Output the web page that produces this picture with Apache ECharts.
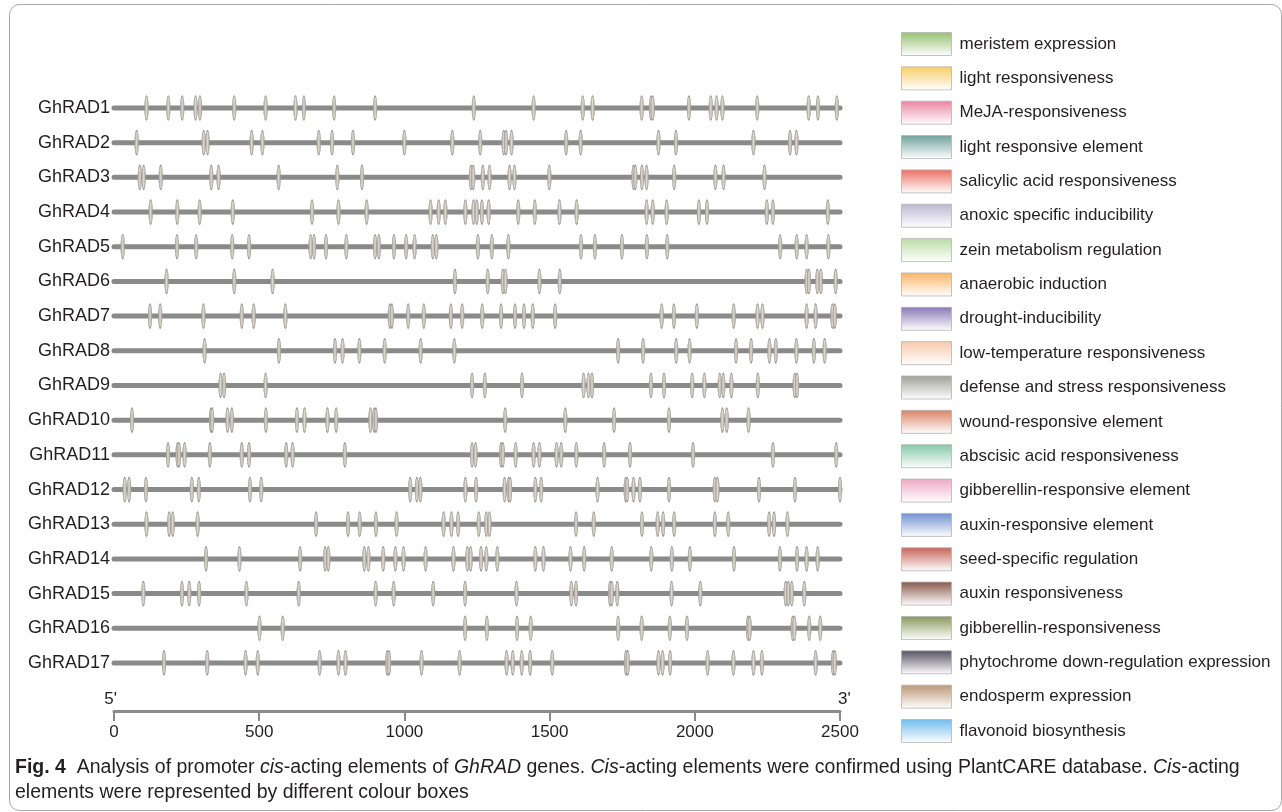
<!DOCTYPE html>
<html>
<head>
<meta charset="utf-8">
<script src="https://cdn.jsdelivr.net/npm/echarts@6.0.0/dist/echarts.min.js"></script>
<style>
  html, body { margin: 0; padding: 0; background: #fff; }
  #main { width: 1282px; height: 812px; }
</style>
</head>
<body>
<div id="main"></div>
<script>
// gene names, top to bottom
var genes = ['GhRAD1', 'GhRAD2', 'GhRAD3', 'GhRAD4', 'GhRAD5', 'GhRAD6', 'GhRAD7', 'GhRAD8', 'GhRAD9',
  'GhRAD10', 'GhRAD11', 'GhRAD12', 'GhRAD13', 'GhRAD14', 'GhRAD15', 'GhRAD16', 'GhRAD17'];

// promoter length drawn for every gene (bp)
var promoterLength = [2500, 2500, 2500, 2500, 2500, 2500, 2500, 2500, 2500, 2500, 2500, 2500, 2500, 2500, 2500, 2500, 2500];

// cis-acting element positions (bp from 5' end)
var ghRAD1 = [112, 187, 235, 281, 296, 414, 522, 625, 654, 758, 899, 1239, 1445, 1614, 1648, 1817, 1849, 1855, 1980, 2055, 2075, 2095, 2215, 2392, 2424, 2489];
var ghRAD2 = [78, 309, 322, 474, 511, 705, 751, 823, 1000, 1165, 1261, 1342, 1350, 1369, 1557, 1607, 1875, 1935, 2202, 2328, 2350];
var ghRAD3 = [89, 102, 161, 335, 360, 567, 769, 854, 1229, 1237, 1270, 1293, 1362, 1379, 1499, 1789, 1795, 1818, 1834, 1929, 2071, 2099, 2240];
var ghRAD4 = [126, 218, 295, 409, 682, 773, 870, 1090, 1118, 1141, 1210, 1238, 1249, 1267, 1290, 1392, 1449, 1534, 1593, 1834, 1855, 1903, 2014, 2042, 2248, 2269, 2458];
var ghRAD5 = [30, 217, 283, 407, 465, 677, 689, 730, 800, 899, 912, 964, 1006, 1035, 1098, 1110, 1253, 1301, 1358, 1608, 1656, 1749, 1835, 1905, 2294, 2351, 2385, 2460];
var ghRAD6 = [181, 414, 546, 1174, 1287, 1339, 1348, 1465, 1535, 2385, 2393, 2422, 2434, 2485];
var ghRAD7 = [124, 159, 308, 440, 481, 590, 950, 957, 1013, 1067, 1160, 1199, 1268, 1333, 1381, 1412, 1442, 1519, 1886, 1928, 2007, 2134, 2216, 2233, 2385, 2416, 2474, 2482];
var ghRAD8 = [312, 568, 761, 787, 845, 932, 1056, 1172, 1736, 1822, 1936, 1982, 2142, 2194, 2257, 2279, 2350, 2410, 2447];
var ghRAD9 = [367, 379, 522, 1233, 1277, 1405, 1617, 1634, 1646, 1849, 1894, 1991, 2033, 2086, 2098, 2126, 2217, 2344, 2352];
var ghRAD10 = [62, 334, 338, 391, 406, 523, 630, 656, 735, 765, 883, 896, 902, 1347, 1554, 1722, 1911, 2095, 2110, 2185];
var ghRAD11 = [186, 219, 224, 243, 330, 440, 465, 593, 615, 795, 1233, 1245, 1333, 1339, 1383, 1445, 1465, 1524, 1540, 1592, 1688, 1777, 1994, 2269, 2487];
var ghRAD12 = [37, 52, 110, 268, 292, 468, 507, 1020, 1043, 1055, 1210, 1247, 1345, 1359, 1364, 1451, 1471, 1665, 1762, 1767, 1789, 1811, 1911, 2069, 2078, 2221, 2345, 2500];
var ghRAD13 = [112, 190, 202, 288, 696, 806, 846, 902, 973, 1135, 1162, 1185, 1256, 1282, 1293, 1591, 1652, 1818, 1872, 1891, 1929, 2069, 2115, 2256, 2273, 2319];
var ghRAD14 = [317, 432, 641, 727, 738, 862, 876, 927, 969, 997, 1073, 1169, 1217, 1228, 1264, 1282, 1320, 1451, 1479, 1572, 1619, 1714, 1850, 1921, 1983, 2135, 2293, 2352, 2385, 2423];
var ghRAD15 = [101, 234, 259, 293, 456, 636, 901, 963, 1099, 1209, 1386, 1575, 1591, 1708, 1714, 1733, 1920, 2019, 2313, 2322, 2334, 2377];
var ghRAD16 = [501, 581, 1209, 1284, 1388, 1435, 1736, 1817, 1914, 1973, 2183, 2189, 2337, 2343, 2394, 2432];
var ghRAD17 = [172, 321, 453, 495, 708, 773, 797, 941, 947, 1059, 1190, 1352, 1373, 1404, 1433, 1509, 1763, 1769, 1875, 1889, 1915, 2044, 2133, 2202, 2231, 2416, 2476, 2482];
var elementSites = [ghRAD1, ghRAD2, ghRAD3, ghRAD4, ghRAD5, ghRAD6, ghRAD7, ghRAD8, ghRAD9,
  ghRAD10, ghRAD11, ghRAD12, ghRAD13, ghRAD14, ghRAD15, ghRAD16, ghRAD17];

// legend: element types and their box colours
var elementTypes = ['meristem expression', 'light responsiveness', 'MeJA-responsiveness', 'light responsive element',
  'salicylic acid responsiveness', 'anoxic specific inducibility', 'zein metabolism regulation', 'anaerobic induction',
  'drought-inducibility', 'low-temperature responsiveness', 'defense and stress responsiveness', 'wound-responsive element',
  'abscisic acid responsiveness', 'gibberellin-responsive element', 'auxin-responsive element', 'seed-specific regulation',
  'auxin responsiveness', 'gibberellin-responsiveness', 'phytochrome down-regulation expression', 'endosperm expression',
  'flavonoid biosynthesis'];
var elementColors = ['#7ab04c', '#f5c03e', '#e5648c', '#4b8882', '#e6483a', '#a9a6c6', '#a8d38e', '#f6a03e',
  '#6b55a2', '#f8b994', '#86887c', '#cf623c', '#63ba8e', '#e992b2', '#4b74c2', '#b83c2c',
  '#6b2d1e', '#6c7c32', '#2a2338', '#a97c52', '#4caae8'];

var xTicks = [0, 500, 1000, 1500, 2000, 2500];

var FONT = '"Liberation Sans", Arial, sans-serif';
var TEXT_COLOR = '#231f20';

var chart = echarts.init(document.getElementById('main'));

var markerData = [];
elementSites.forEach(function (sites, i) {
  sites.forEach(function (p) {
    markerData.push([p, genes[i]]);
  });
});

var legendSeries = elementTypes.map(function (name, k) {
  return {
    name: name,
    type: 'scatter',
    data: [],
    itemStyle: {
      color: new echarts.graphic.LinearGradient(0, 0, 0, 1, [
        {offset: 0, color: elementColors[k]},
        {offset: 1, color: '#ffffff'}
      ])
    }
  };
});

var option = {
  backgroundColor: '#ffffff',
  animation: false,
  grid: {
    left: 114,
    right: 442,
    top: 90.66,
    bottom: 131.7,
    containLabel: false
  },
  xAxis: {
    type: 'value',
    min: 0,
    max: 2500,
    interval: 500,
    offset: 30.7,
    axisLine: {show: true, lineStyle: {color: '#8a8a8a', width: 3}},
    axisTick: {show: true, length: 10, lineStyle: {color: '#8a8a8a', width: 2}},
    axisLabel: {
      color: TEXT_COLOR, fontSize: 17, fontFamily: FONT, margin: 13,
      formatter: function (v) { return xTicks.indexOf(v) >= 0 ? String(v) : ''; }
    },
    splitLine: {show: false}
  },
  yAxis: {
    type: 'category',
    data: genes,
    inverse: true,
    axisLine: {show: false},
    axisTick: {show: false},
    axisLabel: {color: TEXT_COLOR, fontSize: 18, fontFamily: FONT, margin: 4}
  },
  legend: {
    orient: 'vertical',
    left: 896,
    top: 27,
    itemWidth: 50,
    itemHeight: 23,
    itemGap: 10.35,
    icon: 'rect',
    selectedMode: false,
    itemStyle: {borderColor: '#b4b4b4', borderWidth: 1},
    textStyle: {color: TEXT_COLOR, fontSize: 17, fontFamily: FONT, padding: [0, 0, 0, 3]},
    data: elementTypes
  },
  series: [
    {
      // promoter backbone lines
      type: 'custom',
      silent: true,
      z: 1,
      data: promoterLength.map(function (len, i) { return [len, genes[i]]; }),
      renderItem: function (params, api) {
        var start = api.coord([0, api.value(1)]);
        var end = api.coord([api.value(0), api.value(1)]);
        return {
          type: 'line',
          shape: {x1: start[0], y1: start[1], x2: end[0], y2: end[1]},
          style: {stroke: '#8a8a8a', lineWidth: 5, lineCap: 'round'}
        };
      }
    },
    {
      // cis-acting element boxes
      type: 'scatter',
      z: 3,
      silent: true,
      symbol: 'circle',
      symbolSize: [4, 24],
      data: markerData,
      itemStyle: {
        color: new echarts.graphic.LinearGradient(0, 0, 1, 0, [
          {offset: 0, color: '#9c9a98'},
          {offset: 0.5, color: '#e0d8ca'},
          {offset: 1, color: '#9c9a98'}
        ]),
        borderColor: '#979797',
        borderWidth: 0.7,
        opacity: 1
      }
    }
  ].concat(legendSeries)
};

chart.setOption(option);

// 5' / 3' end labels and caption
var axisY = 711;
var x0 = chart.convertToPixel({xAxisIndex: 0}, 0);
var x1 = chart.convertToPixel({xAxisIndex: 0}, 2500);
var CAPTION_FONT = '19.5px ' + FONT;
chart.setOption({
  graphic: [
    {
      type: 'rect', left: 7, top: 2, silent: true,
      shape: {width: 1272, height: 806, r: 10},
      style: {fill: 'none', stroke: '#a6a6a6', lineWidth: 1}
    },
    {
      type: 'text', x: x0 + 3, y: axisY - 3,
      style: {text: "5'", fill: TEXT_COLOR, font: '17px ' + FONT, align: 'right', verticalAlign: 'bottom'}
    },
    {
      type: 'text', x: x1 - 2, y: axisY - 3,
      style: {text: "3'", fill: TEXT_COLOR, font: '17px ' + FONT, align: 'left', verticalAlign: 'bottom'}
    },
    {
      type: 'text', left: 15, top: 758,
      style: {
        text: '{b|Fig. 4}  Analysis of promoter {i|cis}-acting elements of {i|GhRAD} genes. {i|Cis}-acting elements were confirmed using PlantCARE database. {i|Cis}-acting',
        fill: TEXT_COLOR,
        font: CAPTION_FONT,
        rich: {
          b: {fontWeight: 'bold', fontSize: 19.5, fontFamily: FONT, fill: TEXT_COLOR},
          i: {fontStyle: 'italic', fontSize: 19.5, fontFamily: FONT, fill: TEXT_COLOR}
        }
      }
    },
    {
      type: 'text', left: 15, top: 783,
      style: {
        text: 'elements were represented by different colour boxes',
        fill: TEXT_COLOR,
        font: CAPTION_FONT
      }
    }
  ]
});
</script>
</body>
</html>
